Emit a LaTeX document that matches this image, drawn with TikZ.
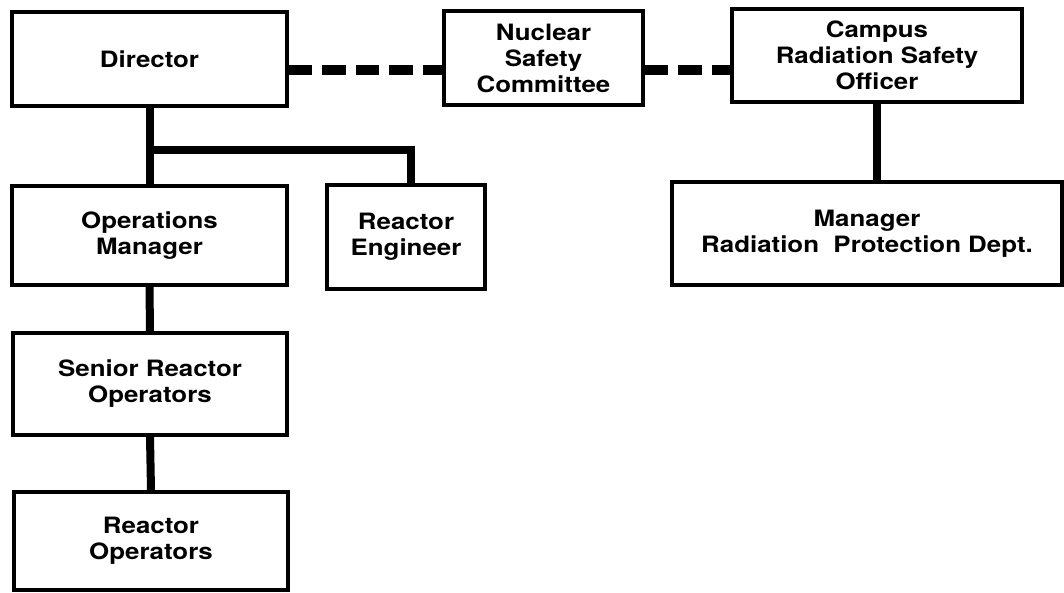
\documentclass[tikz,border=0pt]{standalone}
\usepackage{fontspec}
\newfontfamily\chartfont{TeX Gyre Heros}[FakeStretch=1.15]
\begin{document}
\begin{tikzpicture}[x=1pt,y=-1pt,
  box/.style={draw, line width=3.5pt, align=center, inner sep=0pt,
    font=\chartfont\bfseries\fontsize{22.5}{26}\selectfont},
  link/.style={line width=8pt},
  dashlink/.style={line width=10pt, dash pattern=on 23.5pt off 10pt}]
\fill[white] (0,0) rectangle (1064,592);
\useasboundingbox (0,0) rectangle (1064,592);

\node[box, minimum width=275pt, minimum height=94pt] (dir) at (149.5,59) {Director};
\node[box, minimum width=199pt, minimum height=94pt] (nsc) at (543.5,58) {Nuclear\\Safety\\Committee};
\node[box, minimum width=290pt, minimum height=93pt] (crso) at (877,55.5) {Campus\\Radiation Safety\\Officer};
\node[box, minimum width=275pt, minimum height=99pt] (ops) at (149.5,235.5) {Operations\\Manager};
\node[box, minimum width=158pt, minimum height=104pt] (re) at (406,237) {Reactor\\Engineer};
\node[box, minimum width=390pt, minimum height=103pt] (mrpd) at (867,233.5) {Manager\\Radiation\ \ Protection Dept.};
\node[box, minimum width=274pt, minimum height=102pt] (sro) at (150,384) {Senior Reactor\\Operators};
\node[box, minimum width=274pt, minimum height=98pt] (ro) at (151,541) {Reactor\\Operators};

\draw[link] (dir.south) -- (ops.north);
\draw[link] (dir.south |- 0,150) -| ([xshift=5pt]re.north);
\draw[link] (ops.south) -- (sro.north);
\draw[link] (sro.south) -- (ro.north);
\draw[link] (crso.south) -- (crso.south |- mrpd.north);
\draw[dashlink] (dir.east |- 0,70) -- (nsc.west |- 0,70);
\draw[dashlink] (nsc.east |- 0,70) -- (crso.west |- 0,70);
\end{tikzpicture}
\end{document}
